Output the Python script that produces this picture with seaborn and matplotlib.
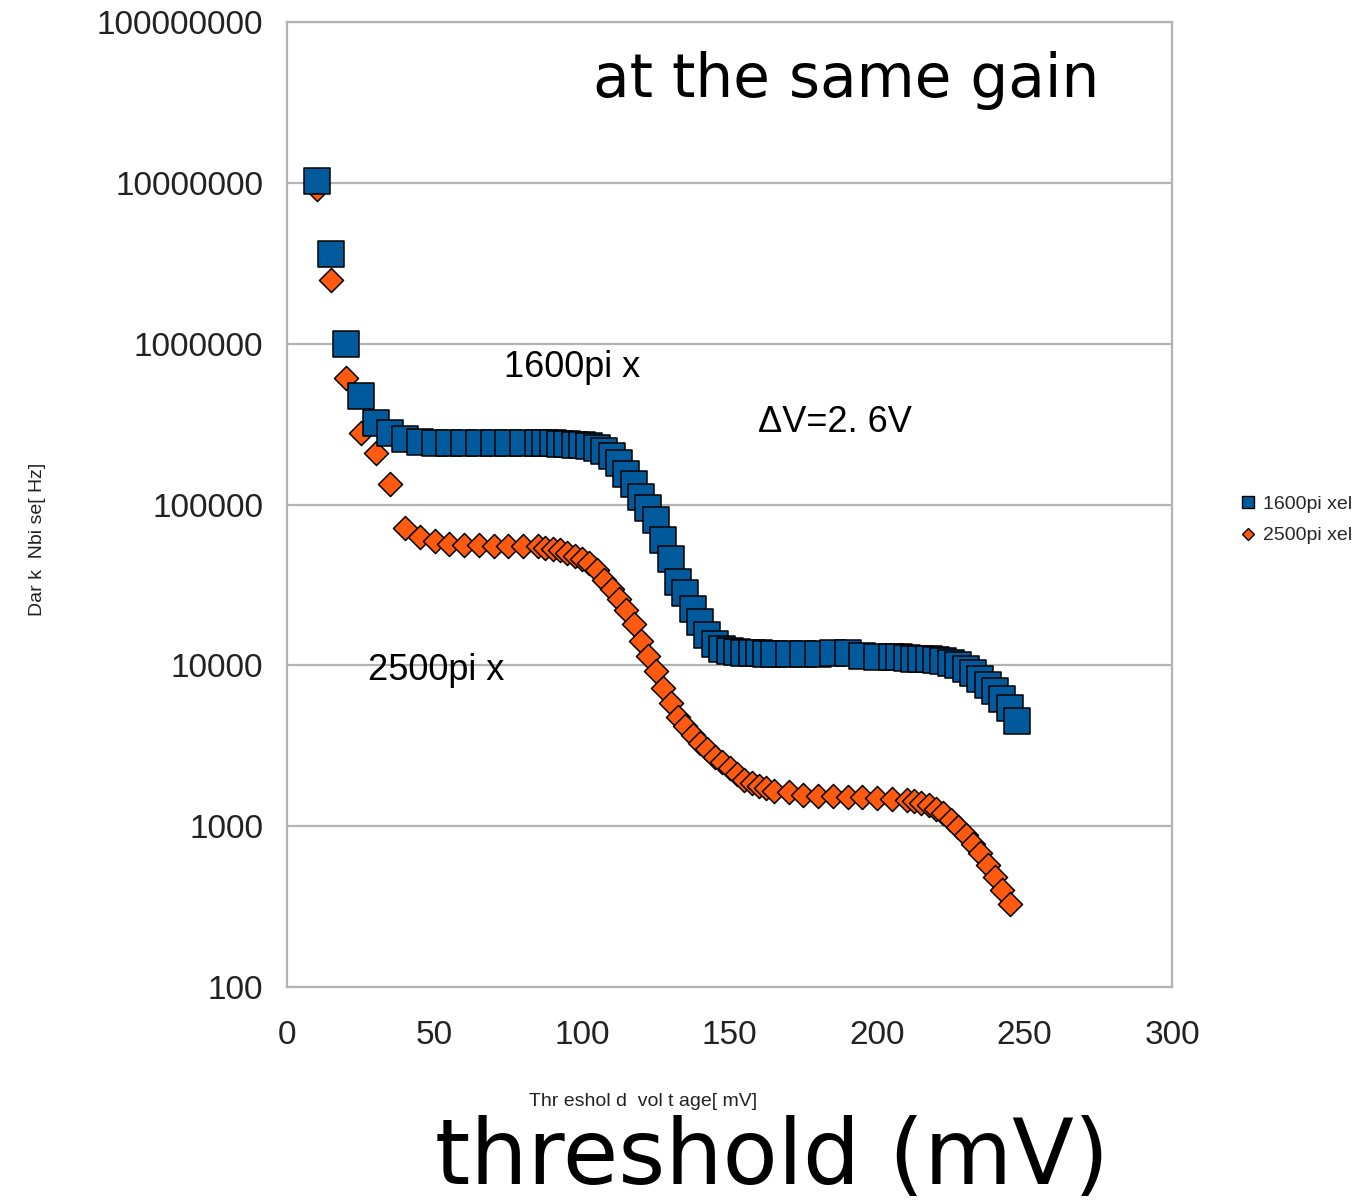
import pandas as pd
import matplotlib
matplotlib.use("Agg")
import matplotlib.pyplot as plt
from matplotlib.lines import Line2D
from matplotlib.ticker import FixedLocator, FuncFormatter, NullLocator
import seaborn as sns

# values
threshold_1600 = [10, 15, 20, 25, 30, 35, 40, 45, 50, 55, 60, 65, 70, 75, 80, 85,
                  87.5, 90, 92.5, 95, 97.5, 100, 102.5, 105, 107.5, 110, 112.5, 115,
                  117.5, 120, 122.5, 125, 127.5, 130, 132.5, 135, 137.5, 140, 142.5,
                  145, 147.5, 150, 152.5, 155, 157.5, 160, 162.5, 165,
                  170, 175, 180, 185, 190, 195, 200, 205,
                  207.5, 210, 212.5, 215, 217.5, 220, 222.5, 225, 227.5, 230, 232.5,
                  235, 237.5, 240, 242.5, 245, 247.5]
noise_1600 = [1.03e7, 3.6e6, 1.0e6, 4.7e5, 3.2e5, 2.8e5, 2.55e5, 2.45e5, 2.4e5, 2.4e5,
              2.4e5, 2.4e5, 2.4e5, 2.4e5, 2.4e5, 2.4e5,
              2.4e5, 2.4e5, 2.38e5, 2.37e5, 2.35e5, 2.33e5, 2.3e5, 2.25e5, 2.15e5,
              2.0e5, 1.8e5, 1.55e5, 1.35e5, 1.12e5, 9.5e4, 8.0e4, 6.0e4, 4.6e4,
              3.3e4, 2.8e4, 2.25e4, 1.85e4, 1.55e4, 1.35e4, 1.27e4, 1.23e4, 1.21e4,
              1.2e4, 1.2e4, 1.19e4, 1.18e4, 1.17e4,
              1.17e4, 1.17e4, 1.17e4, 1.19e4, 1.2e4, 1.15e4, 1.13e4, 1.12e4,
              1.12e4, 1.11e4, 1.1e4, 1.1e4, 1.09e4, 1.08e4, 1.06e4, 1.04e4, 1.0e4,
              9.5e3, 8.9e3, 8.2e3, 7.5e3, 6.9e3, 6.2e3, 5.4e3, 4.5e3]

threshold_2500 = [10, 15, 20, 25, 30, 35, 40, 45, 50, 55, 60, 65, 70, 75, 80, 85,
                  87.5, 90, 92.5, 95, 97.5, 100, 102.5, 105, 107.5, 110, 112.5, 115,
                  117.5, 120, 122.5, 125, 127.5, 130, 132.5, 135, 137.5, 140, 142.5,
                  145, 147.5, 150, 152.5, 155, 157.5, 160, 162.5, 165,
                  170, 175, 180, 185, 190, 195, 200, 205, 210,
                  212.5, 215, 217.5, 220, 222.5, 225, 227.5, 230, 232.5, 235, 237.5,
                  240, 242.5, 245]
noise_2500 = [9.1e6, 2.5e6, 6.1e5, 2.8e5, 2.1e5, 1.35e5, 7.1e4, 6.3e4, 5.9e4, 5.7e4,
              5.6e4, 5.6e4, 5.5e4, 5.5e4, 5.5e4, 5.5e4,
              5.4e4, 5.3e4, 5.2e4, 5.0e4, 4.8e4, 4.6e4, 4.3e4, 3.9e4, 3.4e4, 3.0e4,
              2.6e4, 2.2e4, 1.8e4, 1.42e4, 1.15e4, 9.2e3, 7.2e3, 5.8e3, 4.8e3,
              4.2e3, 3.7e3, 3.3e3, 3.0e3, 2.7e3, 2.5e3, 2.3e3, 2.1e3, 1.95e3,
              1.85e3, 1.78e3, 1.72e3, 1.66e3,
              1.62e3, 1.57e3, 1.55e3, 1.53e3, 1.52e3, 1.51e3, 1.5e3, 1.48e3, 1.46e3,
              1.43e3, 1.4e3, 1.35e3, 1.28e3, 1.2e3, 1.1e3, 990, 880, 780, 680, 570,
              480, 400, 330]

series_names = ["1600pi xel", "2500pi xel"]
colors = ["#005a9c", "#ff5a10"]
y_ticks = [100, 1000, 10000, 100000, 1000000, 10000000, 100000000]
x_ticks = [0, 50, 100, 150, 200, 250, 300]

df_1600 = pd.DataFrame({"threshold": threshold_1600, "noise": noise_1600})
df_2500 = pd.DataFrame({"threshold": threshold_2500, "noise": noise_2500})

sns.set_style("white")
plt.rcParams['font.family'] = ['Liberation Sans', 'DejaVu Sans']

fig = plt.figure(figsize=(13.64, 12.03), dpi=100)
ax = fig.add_axes([287 / 1364, 1 - 987 / 1203, 885 / 1364, 965 / 1203])

# orange first so the blue squares sit on top
sns.scatterplot(data=df_2500, x="threshold", y="noise", ax=ax, marker="D", s=150,
                color=colors[1], edgecolor="black", linewidth=1.1, zorder=3)
sns.scatterplot(data=df_1600, x="threshold", y="noise", ax=ax, marker="s", s=370,
                color=colors[0], edgecolor="black", linewidth=1.1, zorder=4)

ax.set_yscale("log")
ax.set_ylim(100, 1e8)
ax.set_xlim(0, 300)
ax.yaxis.set_major_locator(FixedLocator(y_ticks))
ax.yaxis.set_minor_locator(NullLocator())
ax.yaxis.set_major_formatter(FuncFormatter(lambda v, p: f"{int(round(v))}"))
ax.xaxis.set_major_locator(FixedLocator(x_ticks))
ax.grid(axis="y", color="#b3b3b3", lw=1.6)
ax.set_axisbelow(True)
for sp in ax.spines.values():
    sp.set_color("#b3b3b3")
    sp.set_linewidth(1.6)
ax.tick_params(axis="both", which="major", width=1.6, color="#b3b3b3",
               labelsize=24, labelcolor="#222222", direction="out")
ax.tick_params(axis="y", length=12, pad=5)
ax.tick_params(axis="x", length=9.5, pad=14)
ax.set_xlabel("")
ax.set_ylabel("")

# annotations inside the plot
narrow = ['Liberation Sans Narrow', 'Liberation Sans', 'DejaVu Sans']
fig.text(572 / 1364, 1 - 367 / 1203, "1600pi x", family=narrow, fontsize=26,
         ha="center", va="center", color="black",
         bbox=dict(facecolor="white", edgecolor="none", pad=2))
fig.text(436 / 1364, 1 - 670 / 1203, "2500pi x", family=narrow, fontsize=26,
         ha="center", va="center", color="black")
fig.text(835 / 1364, 1 - 423 / 1203, "ΔV=2. 6V", family=narrow, fontsize=26,
         ha="center", va="center", color="black")

fig.text(846 / 1364, 1 - 97 / 1203, "at the same gain", family="DejaVu Sans",
         fontsize=43, ha="center", va="baseline", color="black")
fig.text(772 / 1364, 1 - 1184 / 1203, "threshold (mV)", family="DejaVu Sans",
         fontsize=65, ha="center", va="baseline", color="black")

# axis titles
fig.text(643 / 1364, 1 - 1102 / 1203, "Thr eshol d  vol t age[ mV]", fontsize=14,
         ha="center", va="center", color="#222222")
fig.text(38 / 1364, 1 - 539 / 1203, "Dar k  Nbi se[ Hz]", fontsize=14,
         rotation=90, ha="center", va="center", color="#222222")

handles = [Line2D([], [], marker="s", ls="", ms=9, mfc=colors[0], mec="black", mew=1.0),
           Line2D([], [], marker="D", ls="", ms=6.5, mfc=colors[1], mec="black", mew=1.0)]
fig.legend(handles, series_names, loc="center left",
           bbox_to_anchor=(1230 / 1364, 1 - 520 / 1203), frameon=False,
           fontsize=14, handletextpad=0.3, labelspacing=0.7, borderaxespad=0,
           handlelength=1.0)

fig.savefig("out.png", dpi=100)
